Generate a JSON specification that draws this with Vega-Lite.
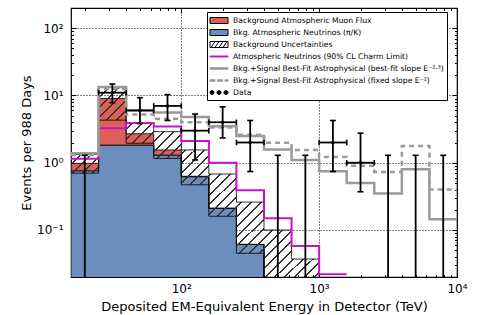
{
"$schema":"https://vega.github.io/schema/vega-lite/v6.json",
"width":386,"height":269,
"autosize":{"type":"none"},
"padding":{"left":71,"top":8,"right":21,"bottom":38},
"background":"white",
"data":{"values":[
{"bin":1,"lo_edge":15.849,"up_edge":25.119,"center":19.953,"atm_nu":0.76,"bkg_total":0.98,"unc_lo":0.70,"unc_hi":1.33,"charm":1.15,"fit":1.38,"fit_e2":1.30,"n":0,"n_lo":0,"n_hi":1.29},
{"bin":2,"lo_edge":25.119,"up_edge":39.811,"center":31.623,"atm_nu":1.83,"bkg_total":9.0,"unc_lo":4.3,"unc_hi":13.3,"charm":3.25,"fit":13.4,"fit_e2":12.5,"n":11,"n_lo":7.81,"n_hi":14.82},
{"bin":3,"lo_edge":39.811,"up_edge":63.096,"center":50.119,"atm_nu":1.83,"bkg_total":2.7,"unc_lo":1.95,"unc_hi":3.85,"charm":3.9,"fit":6.0,"fit_e2":5.2,"n":6,"n_lo":3.82,"n_hi":9.28},
{"bin":4,"lo_edge":63.096,"up_edge":100,"center":79.433,"atm_nu":1.30,"bkg_total":1.55,"unc_lo":1.16,"unc_hi":2.9,"charm":3.45,"fit":5.6,"fit_e2":4.5,"n":7,"n_lo":4.25,"n_hi":10.30},
{"bin":5,"lo_edge":100,"up_edge":158.49,"center":125.89,"atm_nu":0.62,"bkg_total":0.63,"unc_lo":0.47,"unc_hi":1.55,"charm":2.1,"fit":4.8,"fit_e2":4.0,"n":3,"n_lo":1.10,"n_hi":5.30},
{"bin":6,"lo_edge":158.49,"up_edge":251.19,"center":199.53,"atm_nu":0.21,"bkg_total":0.21,"unc_lo":0.16,"unc_hi":0.68,"charm":1.0,"fit":3.5,"fit_e2":3.35,"n":4,"n_lo":2.34,"n_hi":6.78},
{"bin":7,"lo_edge":251.19,"up_edge":398.11,"center":316.23,"atm_nu":0.061,"bkg_total":0.061,"unc_lo":0.045,"unc_hi":0.26,"charm":0.39,"fit":2.5,"fit_e2":2.6,"n":2,"n_lo":0.74,"n_hi":4.25},
{"bin":8,"lo_edge":398.11,"up_edge":630.96,"center":501.19,"atm_nu":0.012,"bkg_total":0.012,"unc_lo":0.008,"unc_hi":0.10,"charm":0.149,"fit":1.58,"fit_e2":1.98,"n":0,"n_lo":0,"n_hi":1.29},
{"bin":9,"lo_edge":630.96,"up_edge":1000,"center":794.33,"atm_nu":0.004,"bkg_total":0.004,"unc_lo":0.003,"unc_hi":0.037,"charm":0.058,"fit":1.1,"fit_e2":1.55,"n":0,"n_lo":0,"n_hi":1.29},
{"bin":10,"lo_edge":1000,"up_edge":1584.9,"center":1258.9,"atm_nu":null,"bkg_total":null,"unc_lo":null,"unc_hi":null,"charm":0.022,"fit":0.75,"fit_e2":1.22,"n":2,"n_lo":0.74,"n_hi":4.25},
{"bin":11,"lo_edge":1584.9,"up_edge":2511.9,"center":1995.3,"atm_nu":null,"bkg_total":null,"unc_lo":null,"unc_hi":null,"charm":null,"fit":0.50,"fit_e2":0.9,"n":1,"n_lo":0.37,"n_hi":2.75},
{"bin":12,"lo_edge":2511.9,"up_edge":3981.1,"center":3162.3,"atm_nu":null,"bkg_total":null,"unc_lo":null,"unc_hi":null,"charm":null,"fit":0.35,"fit_e2":0.73,"n":0,"n_lo":0,"n_hi":1.29},
{"bin":13,"lo_edge":3981.1,"up_edge":6309.6,"center":5011.9,"atm_nu":null,"bkg_total":null,"unc_lo":null,"unc_hi":null,"charm":null,"fit":0.80,"fit_e2":1.77,"n":0,"n_lo":0,"n_hi":1.29},
{"bin":14,"lo_edge":6309.6,"up_edge":10000,"center":7943.3,"atm_nu":null,"bkg_total":null,"unc_lo":null,"unc_hi":null,"charm":null,"fit":0.144,"fit_e2":0.40,"n":0,"n_lo":0,"n_hi":1.29}
]},
"resolve":{"axis":{"x":"independent","y":"independent"}},
"layer":[
{"transform":[{"filter":"datum.atm_nu != null"},{"fold":["lo_edge","up_edge"],"as":["edge","energy"]}],
 "mark":{"type":"area","fill":"#6b8ebc","stroke":"black","strokeWidth":0.8,"clip":true},
 "encoding":{
  "x":{"field":"energy","type":"quantitative","scale":{"type":"log","domain":[15.849,10000]},
   "axis":{"orient":"bottom","values":[20,30,40,50,60,70,80,90,100,200,300,400,500,600,700,800,900,1000,2000,3000,4000,5000,6000,7000,8000,9000,10000],
    "labelExpr":"datum.value==100?'10²':datum.value==1000?'10³':datum.value==10000?'10⁴':''",
    "labelFlush":false,"labelOverlap":false,"labelFontSize":12,"labelColor":"black","labelPadding":11,
    "tickColor":"black","tickWidth":1,
    "tickSize":{"condition":{"test":"abs(log(datum.value)/LN10-round(log(datum.value)/LN10))<0.001","value":-5},"value":-2.5},
    "domain":false,"grid":true,"gridColor":"black","gridDash":[1,2],"gridWidth":1,
    "gridOpacity":{"condition":{"test":"abs(log(datum.value)/LN10-round(log(datum.value)/LN10))<0.001","value":1},"value":0},
    "title":"Deposited EM-Equivalent Energy in Detector (TeV)","titleFontSize":13,"titleFontWeight":"normal","titleColor":"black","titlePadding":4}},
  "y":{"field":"atm_nu","type":"quantitative","scale":{"type":"log","domain":[0.02,200]},
   "axis":{"orient":"left","values":[0.02,0.03,0.04,0.05,0.06,0.07,0.08,0.09,0.1,0.2,0.3,0.4,0.5,0.6,0.7,0.8,0.9,1,2,3,4,5,6,7,8,9,10,20,30,40,50,60,70,80,90,100,200],
    "labelExpr":"datum.value==0.1?'10⁻¹':datum.value==1?'10⁰':datum.value==10?'10¹':datum.value==100?'10²':''",
    "labelOverlap":false,"labelFlush":false,"labelFontSize":12,"labelColor":"black","labelPadding":13,
    "tickColor":"black","tickWidth":1,
    "tickSize":{"condition":{"test":"abs(log(datum.value)/LN10-round(log(datum.value)/LN10))<0.001","value":-5},"value":-2.5},
    "domain":false,"grid":true,"gridColor":"black","gridDash":[1,2],"gridWidth":1,
    "gridOpacity":{"condition":{"test":"abs(log(datum.value)/LN10-round(log(datum.value)/LN10))<0.001","value":1},"value":0},
    "title":"Events per 988 Days","titleFontSize":13,"titleFontWeight":"normal","titleColor":"black","titlePadding":3}},
  "y2":{"datum":0.001},
  "order":[{"field":"bin","type":"quantitative"},{"field":"edge","type":"ordinal"}]}},
{"transform":[{"filter":"datum.atm_nu != null"},{"fold":["lo_edge","up_edge"],"as":["edge","energy"]}],
 "mark":{"type":"area","fill":"#dc5f5a","stroke":"black","strokeWidth":0.8,"clip":true},
 "encoding":{
  "x":{"field":"energy","type":"quantitative","scale":{"type":"log","domain":[15.849,10000]},
   "axis":{"orient":"top","values":[20,30,40,50,60,70,80,90,100,200,300,400,500,600,700,800,900,1000,2000,3000,4000,5000,6000,7000,8000,9000,10000],
    "labels":false,"title":null,"domain":false,"grid":false,"tickColor":"black","tickWidth":1,
    "tickSize":{"condition":{"test":"abs(log(datum.value)/LN10-round(log(datum.value)/LN10))<0.001","value":-5},"value":-2.5}}},
  "y":{"field":"bkg_total","type":"quantitative","scale":{"type":"log","domain":[0.02,200]},
   "axis":{"orient":"right","values":[0.02,0.03,0.04,0.05,0.06,0.07,0.08,0.09,0.1,0.2,0.3,0.4,0.5,0.6,0.7,0.8,0.9,1,2,3,4,5,6,7,8,9,10,20,30,40,50,60,70,80,90,100,200],
    "labels":false,"title":null,"domain":false,"grid":false,"tickColor":"black","tickWidth":1,
    "tickSize":{"condition":{"test":"abs(log(datum.value)/LN10-round(log(datum.value)/LN10))<0.001","value":-5},"value":-2.5}}},
  "y2":{"field":"atm_nu"},
  "order":[{"field":"bin","type":"quantitative"},{"field":"edge","type":"ordinal"}]}},
{"transform":[{"filter":"datum.unc_hi != null"},{"fold":["lo_edge","up_edge"],"as":["edge","energy"]}],
 "mark":{"type":"area","stroke":"black","strokeWidth":0.8,"clip":true,
  "fill":{"gradient":"linear","x1":0,"y1":0,"x2":1,"y2":1,"stops":[
{"offset":0,"color":"#0000"},{"offset":0.016,"color":"#0000"},{"offset":0.016,"color":"#333"},{"offset":0.02,"color":"#333"},
{"offset":0.02,"color":"#0000"},{"offset":0.036,"color":"#0000"},{"offset":0.036,"color":"#333"},{"offset":0.04,"color":"#333"},
{"offset":0.04,"color":"#0000"},{"offset":0.056,"color":"#0000"},{"offset":0.056,"color":"#333"},{"offset":0.06,"color":"#333"},
{"offset":0.06,"color":"#0000"},{"offset":0.076,"color":"#0000"},{"offset":0.076,"color":"#333"},{"offset":0.08,"color":"#333"},
{"offset":0.08,"color":"#0000"},{"offset":0.096,"color":"#0000"},{"offset":0.096,"color":"#333"},{"offset":0.1,"color":"#333"},
{"offset":0.1,"color":"#0000"},{"offset":0.116,"color":"#0000"},{"offset":0.116,"color":"#333"},{"offset":0.12,"color":"#333"},
{"offset":0.12,"color":"#0000"},{"offset":0.136,"color":"#0000"},{"offset":0.136,"color":"#333"},{"offset":0.14,"color":"#333"},
{"offset":0.14,"color":"#0000"},{"offset":0.156,"color":"#0000"},{"offset":0.156,"color":"#333"},{"offset":0.16,"color":"#333"},
{"offset":0.16,"color":"#0000"},{"offset":0.176,"color":"#0000"},{"offset":0.176,"color":"#333"},{"offset":0.18,"color":"#333"},
{"offset":0.18,"color":"#0000"},{"offset":0.196,"color":"#0000"},{"offset":0.196,"color":"#333"},{"offset":0.2,"color":"#333"},
{"offset":0.2,"color":"#0000"},{"offset":0.216,"color":"#0000"},{"offset":0.216,"color":"#333"},{"offset":0.22,"color":"#333"},
{"offset":0.22,"color":"#0000"},{"offset":0.236,"color":"#0000"},{"offset":0.236,"color":"#333"},{"offset":0.24,"color":"#333"},
{"offset":0.24,"color":"#0000"},{"offset":0.256,"color":"#0000"},{"offset":0.256,"color":"#333"},{"offset":0.26,"color":"#333"},
{"offset":0.26,"color":"#0000"},{"offset":0.276,"color":"#0000"},{"offset":0.276,"color":"#333"},{"offset":0.28,"color":"#333"},
{"offset":0.28,"color":"#0000"},{"offset":0.296,"color":"#0000"},{"offset":0.296,"color":"#333"},{"offset":0.3,"color":"#333"},
{"offset":0.3,"color":"#0000"},{"offset":0.316,"color":"#0000"},{"offset":0.316,"color":"#333"},{"offset":0.32,"color":"#333"},
{"offset":0.32,"color":"#0000"},{"offset":0.336,"color":"#0000"},{"offset":0.336,"color":"#333"},{"offset":0.34,"color":"#333"},
{"offset":0.34,"color":"#0000"},{"offset":0.356,"color":"#0000"},{"offset":0.356,"color":"#333"},{"offset":0.36,"color":"#333"},
{"offset":0.36,"color":"#0000"},{"offset":0.376,"color":"#0000"},{"offset":0.376,"color":"#333"},{"offset":0.38,"color":"#333"},
{"offset":0.38,"color":"#0000"},{"offset":0.396,"color":"#0000"},{"offset":0.396,"color":"#333"},{"offset":0.4,"color":"#333"},
{"offset":0.4,"color":"#0000"},{"offset":0.416,"color":"#0000"},{"offset":0.416,"color":"#333"},{"offset":0.42,"color":"#333"},
{"offset":0.42,"color":"#0000"},{"offset":0.436,"color":"#0000"},{"offset":0.436,"color":"#333"},{"offset":0.44,"color":"#333"},
{"offset":0.44,"color":"#0000"},{"offset":0.456,"color":"#0000"},{"offset":0.456,"color":"#333"},{"offset":0.46,"color":"#333"},
{"offset":0.46,"color":"#0000"},{"offset":0.476,"color":"#0000"},{"offset":0.476,"color":"#333"},{"offset":0.48,"color":"#333"},
{"offset":0.48,"color":"#0000"},{"offset":0.496,"color":"#0000"},{"offset":0.496,"color":"#333"},{"offset":0.5,"color":"#333"},
{"offset":0.5,"color":"#0000"},{"offset":0.516,"color":"#0000"},{"offset":0.516,"color":"#333"},{"offset":0.52,"color":"#333"},
{"offset":0.52,"color":"#0000"},{"offset":0.536,"color":"#0000"},{"offset":0.536,"color":"#333"},{"offset":0.54,"color":"#333"},
{"offset":0.54,"color":"#0000"},{"offset":0.556,"color":"#0000"},{"offset":0.556,"color":"#333"},{"offset":0.56,"color":"#333"},
{"offset":0.56,"color":"#0000"},{"offset":0.576,"color":"#0000"},{"offset":0.576,"color":"#333"},{"offset":0.58,"color":"#333"},
{"offset":0.58,"color":"#0000"},{"offset":0.596,"color":"#0000"},{"offset":0.596,"color":"#333"},{"offset":0.6,"color":"#333"},
{"offset":0.6,"color":"#0000"},{"offset":0.616,"color":"#0000"},{"offset":0.616,"color":"#333"},{"offset":0.62,"color":"#333"},
{"offset":0.62,"color":"#0000"},{"offset":0.636,"color":"#0000"},{"offset":0.636,"color":"#333"},{"offset":0.64,"color":"#333"},
{"offset":0.64,"color":"#0000"},{"offset":0.656,"color":"#0000"},{"offset":0.656,"color":"#333"},{"offset":0.66,"color":"#333"},
{"offset":0.66,"color":"#0000"},{"offset":0.676,"color":"#0000"},{"offset":0.676,"color":"#333"},{"offset":0.68,"color":"#333"},
{"offset":0.68,"color":"#0000"},{"offset":0.696,"color":"#0000"},{"offset":0.696,"color":"#333"},{"offset":0.7,"color":"#333"},
{"offset":0.7,"color":"#0000"},{"offset":0.716,"color":"#0000"},{"offset":0.716,"color":"#333"},{"offset":0.72,"color":"#333"},
{"offset":0.72,"color":"#0000"},{"offset":0.736,"color":"#0000"},{"offset":0.736,"color":"#333"},{"offset":0.74,"color":"#333"},
{"offset":0.74,"color":"#0000"},{"offset":0.756,"color":"#0000"},{"offset":0.756,"color":"#333"},{"offset":0.76,"color":"#333"},
{"offset":0.76,"color":"#0000"},{"offset":0.776,"color":"#0000"},{"offset":0.776,"color":"#333"},{"offset":0.78,"color":"#333"},
{"offset":0.78,"color":"#0000"},{"offset":0.796,"color":"#0000"},{"offset":0.796,"color":"#333"},{"offset":0.8,"color":"#333"},
{"offset":0.8,"color":"#0000"},{"offset":0.816,"color":"#0000"},{"offset":0.816,"color":"#333"},{"offset":0.82,"color":"#333"},
{"offset":0.82,"color":"#0000"},{"offset":0.836,"color":"#0000"},{"offset":0.836,"color":"#333"},{"offset":0.84,"color":"#333"},
{"offset":0.84,"color":"#0000"},{"offset":0.856,"color":"#0000"},{"offset":0.856,"color":"#333"},{"offset":0.86,"color":"#333"},
{"offset":0.86,"color":"#0000"},{"offset":0.876,"color":"#0000"},{"offset":0.876,"color":"#333"},{"offset":0.88,"color":"#333"},
{"offset":0.88,"color":"#0000"},{"offset":0.896,"color":"#0000"},{"offset":0.896,"color":"#333"},{"offset":0.9,"color":"#333"},
{"offset":0.9,"color":"#0000"},{"offset":0.916,"color":"#0000"},{"offset":0.916,"color":"#333"},{"offset":0.92,"color":"#333"},
{"offset":0.92,"color":"#0000"},{"offset":0.936,"color":"#0000"},{"offset":0.936,"color":"#333"},{"offset":0.94,"color":"#333"},
{"offset":0.94,"color":"#0000"},{"offset":0.956,"color":"#0000"},{"offset":0.956,"color":"#333"},{"offset":0.96,"color":"#333"},
{"offset":0.96,"color":"#0000"},{"offset":0.976,"color":"#0000"},{"offset":0.976,"color":"#333"},{"offset":0.98,"color":"#333"},
{"offset":0.98,"color":"#0000"},{"offset":0.996,"color":"#0000"},{"offset":0.996,"color":"#333"},{"offset":1,"color":"#333"}
  ]}},
 "encoding":{
  "x":{"field":"energy","type":"quantitative","scale":{"type":"log","domain":[15.849,10000]},"axis":null},
  "y":{"field":"unc_hi","type":"quantitative","scale":{"type":"log","domain":[0.02,200]},"axis":null},
  "y2":{"field":"unc_lo"},
  "order":[{"field":"bin","type":"quantitative"},{"field":"edge","type":"ordinal"}]}},
{"transform":[{"filter":"datum.charm != null"},{"fold":["lo_edge","up_edge"],"as":["edge","energy"]}],
 "mark":{"type":"line","color":"#cc11cc","strokeWidth":2,"clip":true},
 "encoding":{
  "x":{"field":"energy","type":"quantitative","scale":{"type":"log","domain":[15.849,10000]},"axis":null},
  "y":{"field":"charm","type":"quantitative","scale":{"type":"log","domain":[0.02,200]},"axis":null},
  "order":[{"field":"bin","type":"quantitative"},{"field":"edge","type":"ordinal"}]}},
{"transform":[{"fold":["lo_edge","up_edge"],"as":["edge","energy"]}],
 "mark":{"type":"line","color":"#9a9a9a","strokeWidth":2.5,"clip":true},
 "encoding":{
  "x":{"field":"energy","type":"quantitative","scale":{"type":"log","domain":[15.849,10000]},"axis":null},
  "y":{"field":"fit","type":"quantitative","scale":{"type":"log","domain":[0.02,200]},"axis":null},
  "order":[{"field":"bin","type":"quantitative"},{"field":"edge","type":"ordinal"}]}},
{"transform":[{"fold":["lo_edge","up_edge"],"as":["edge","energy"]}],
 "mark":{"type":"line","color":"#9a9a9a","strokeWidth":2.5,"strokeDash":[5,4],"clip":true},
 "encoding":{
  "x":{"field":"energy","type":"quantitative","scale":{"type":"log","domain":[15.849,10000]},"axis":null},
  "y":{"field":"fit_e2","type":"quantitative","scale":{"type":"log","domain":[0.02,200]},"axis":null},
  "order":[{"field":"bin","type":"quantitative"},{"field":"edge","type":"ordinal"}]}},
{"transform":[{"filter":"datum.n > 0"}],
 "mark":{"type":"rule","color":"black","strokeWidth":1.8,"clip":true},
 "encoding":{
  "x":{"field":"center","type":"quantitative","scale":{"type":"log","domain":[15.849,10000]},"axis":null},
  "y":{"field":"n_lo","type":"quantitative","scale":{"type":"log","domain":[0.02,200]},"axis":null},
  "y2":{"field":"n_hi"}}},
{"transform":[{"filter":"datum.n == 0"}],
 "mark":{"type":"rule","color":"black","strokeWidth":1.8,"clip":true},
 "encoding":{
  "x":{"field":"center","type":"quantitative","scale":{"type":"log","domain":[15.849,10000]},"axis":null},
  "y":{"field":"n_hi","type":"quantitative","scale":{"type":"log","domain":[0.02,200]},"axis":null},
  "y2":{"datum":0.02}}},
{"transform":[{"filter":"datum.n > 0"}],
 "mark":{"type":"rule","color":"black","strokeWidth":1.8,"clip":true},
 "encoding":{
  "x":{"field":"lo_edge","type":"quantitative","scale":{"type":"log","domain":[15.849,10000]},"axis":null},
  "x2":{"field":"up_edge"},
  "y":{"field":"n","type":"quantitative","scale":{"type":"log","domain":[0.02,200]},"axis":null}}},
{"mark":{"type":"point","shape":"M-1,0H1","size":36,"filled":false,"stroke":"black","strokeWidth":1.6,"opacity":1,"clip":true},
 "encoding":{
  "x":{"field":"center","type":"quantitative","scale":{"type":"log","domain":[15.849,10000]},"axis":null},
  "y":{"field":"n_hi","type":"quantitative","scale":{"type":"log","domain":[0.02,200]},"axis":null}}},
{"transform":[{"filter":"datum.n > 0"}],
 "mark":{"type":"point","shape":"M-1,0H1","size":36,"filled":false,"stroke":"black","strokeWidth":1.6,"opacity":1,"clip":true},
 "encoding":{
  "x":{"field":"center","type":"quantitative","scale":{"type":"log","domain":[15.849,10000]},"axis":null},
  "y":{"field":"n_lo","type":"quantitative","scale":{"type":"log","domain":[0.02,200]},"axis":null}}},
{"transform":[{"filter":"datum.n > 0"}],
 "mark":{"type":"point","shape":"M0,-1V1","size":30,"filled":false,"stroke":"black","strokeWidth":1.6,"opacity":1,"clip":true},
 "encoding":{
  "x":{"field":"lo_edge","type":"quantitative","scale":{"type":"log","domain":[15.849,10000]},"axis":null},
  "y":{"field":"n","type":"quantitative","scale":{"type":"log","domain":[0.02,200]},"axis":null}}},
{"transform":[{"filter":"datum.n > 0"}],
 "mark":{"type":"point","shape":"M0,-1V1","size":30,"filled":false,"stroke":"black","strokeWidth":1.6,"opacity":1,"clip":true},
 "encoding":{
  "x":{"field":"up_edge","type":"quantitative","scale":{"type":"log","domain":[15.849,10000]},"axis":null},
  "y":{"field":"n","type":"quantitative","scale":{"type":"log","domain":[0.02,200]},"axis":null}}},
{"transform":[{"filter":"datum.n > 0"}],
 "mark":{"type":"point","shape":"circle","size":12,"filled":true,"color":"black","opacity":1,"clip":true},
 "encoding":{
  "x":{"field":"center","type":"quantitative","scale":{"type":"log","domain":[15.849,10000]},"axis":null},
  "y":{"field":"n","type":"quantitative","scale":{"type":"log","domain":[0.02,200]},"axis":null}}},
{"data":{"values":[
  {"series":"Background Atmospheric Muon Flux"},
  {"series":"Bkg. Atmospheric Neutrinos (π/K)"},
  {"series":"Background Uncertainties"},
  {"series":"Atmospheric Neutrinos (90% CL Charm Limit)"},
  {"series":"Bkg.+Signal Best-Fit Astrophysical (best-fit slope E⁻²·³)"},
  {"series":"Bkg.+Signal Best-Fit Astrophysical (fixed slope E⁻²)"},
  {"series":"Data"}]},
 "transform":[{"filter":"false"}],
 "mark":{"type":"point","filled":true,"opacity":1},
 "encoding":{
  "fill":{"field":"series","type":"nominal","legend":{"title":null},
   "scale":{"domain":["Background Atmospheric Muon Flux","Bkg. Atmospheric Neutrinos (π/K)","Background Uncertainties","Atmospheric Neutrinos (90% CL Charm Limit)","Bkg.+Signal Best-Fit Astrophysical (best-fit slope E⁻²·³)","Bkg.+Signal Best-Fit Astrophysical (fixed slope E⁻²)","Data"],
    "range":["#dc5f5a","#6b8ebc","white","#cc11cc","#9a9a9a","#9a9a9a","black"]}},
  "stroke":{"field":"series","type":"nominal","legend":{"title":null},
   "scale":{"domain":["Background Atmospheric Muon Flux","Bkg. Atmospheric Neutrinos (π/K)","Background Uncertainties","Atmospheric Neutrinos (90% CL Charm Limit)","Bkg.+Signal Best-Fit Astrophysical (best-fit slope E⁻²·³)","Bkg.+Signal Best-Fit Astrophysical (fixed slope E⁻²)","Data"],
    "range":["black","black","black","#cc11cc","#9a9a9a","#9a9a9a","black"]}},
  "shape":{"field":"series","type":"nominal","legend":{"title":null},
   "scale":{"domain":["Background Atmospheric Muon Flux","Bkg. Atmospheric Neutrinos (π/K)","Background Uncertainties","Atmospheric Neutrinos (90% CL Charm Limit)","Bkg.+Signal Best-Fit Astrophysical (best-fit slope E⁻²·³)","Bkg.+Signal Best-Fit Astrophysical (fixed slope E⁻²)","Data"],
    "range":["M-1.8,-0.6H1.8V0.6H-1.8Z","M-1.8,-0.6H1.8V0.6H-1.8Z","M-1.8,-0.6H1.8V0.6H-1.8Z M-1.6,0.6L-0.8,-0.6 M-0.8,0.6L0,-0.6 M0,0.6L0.8,-0.6 M0.8,0.6L1.6,-0.6","M-1.8,-0.1H1.8V0.1H-1.8Z","M-1.8,-0.15H1.8V0.15H-1.8Z","M-1.8,-0.15H-0.8V0.15H-1.8Z M-0.3,-0.15H0.7V0.15H-0.3Z M1.2,-0.15H1.8V0.15H1.2Z","M-1.8,0a0.4,0.4 0 1,0 0.8,0a0.4,0.4 0 1,0 -0.8,0Z M-0.4,0a0.4,0.4 0 1,0 0.8,0a0.4,0.4 0 1,0 -0.8,0Z M1,0a0.4,0.4 0 1,0 0.8,0a0.4,0.4 0 1,0 -0.8,0Z"]}}}}
],
"config":{
 "font":"DejaVu Sans",
 "view":{"stroke":"black","strokeWidth":1.2},
 "legend":{"orient":"none","legendX":136,"legendY":4,"padding":3,"strokeColor":"black","fillColor":"white",
  "symbolSize":100,"symbolOffset":3.5,"labelOffset":8.5,"labelFont":"DejaVu Sans","labelFontSize":7.7,"labelColor":"black",
  "labelLimit":400,"rowPadding":1,"gridAlign":"all","symbolStrokeWidth":1,"symbolOpacity":1}
}
}
